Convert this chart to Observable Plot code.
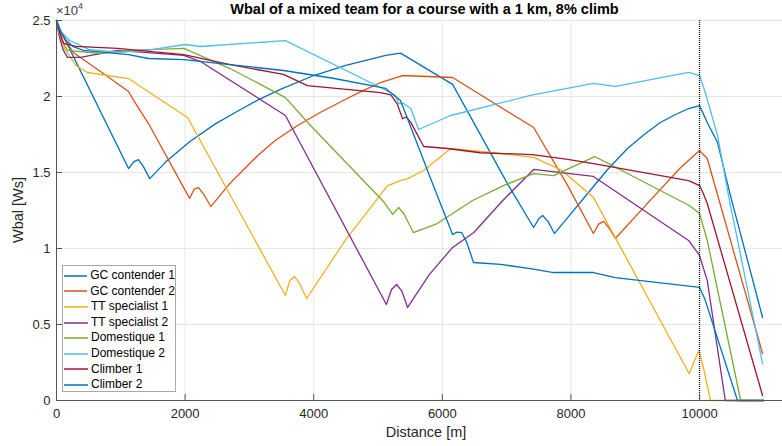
<!DOCTYPE html>
<html>
<head>
<meta charset="utf-8">
<script src="https://cdn.jsdelivr.net/npm/d3@7"></script>
<script src="https://cdn.jsdelivr.net/npm/@observablehq/plot@0.6"></script>
<style>
  html, body { margin: 0; padding: 0; background: #fff; }
  #wrap { position: relative; width: 782px; height: 446px; overflow: hidden; font-family: "Liberation Sans", Arial, sans-serif; color: #262626; }
  #title { position: absolute; left: 0; width: 849px; top: 1px; text-align: center; font-weight: bold; font-size: 14.5px; color: #000; white-space: nowrap; }
  #exp { position: absolute; left: 56px; top: 2px; font-size: 13px; color: #404040; }
  #exp sup { font-size: 9px; position: relative; top: -1px; }
  #xlab { position: absolute; left: 326px; width: 200px; top: 424px; text-align: center; font-size: 14.5px; }
  #ylab { position: absolute; left: 18px; top: 210px; transform: translate(-50%, -50%) rotate(-90deg); font-size: 14.5px; white-space: nowrap; }
  #legend { position: absolute; left: 62px; top: 265px; width: 114px; height: 127px; border: 1px solid #a8a8a8; background: #fff; font-size: 12px; box-sizing: border-box; padding-top: 2px; }
  .row { height: 15.6px; line-height: 15.6px; display: flex; align-items: center; white-space: nowrap; color: #000; }
  .row svg { margin-left: 1px; margin-right: 3px; }
</style>
</head>
<body>
<div id="wrap">
  <div id="chart"></div>
  <div id="title">Wbal of a mixed team for a course with a 1 km, 8% climb</div>
  <div id="exp">×10<sup>4</sup></div>
  <div id="xlab">Distance [m]</div>
  <div id="ylab">Wbal [Ws]</div>
  <div id="legend"></div>
</div>
<script>
const names = ["GC contender 1", "GC contender 2", "TT specialist 1", "TT specialist 2", "Domestique 1", "Domestique 2", "Climber 1", "Climber 2"];
const colors = ["#0072BD", "#D95319", "#EDB120", "#7E2F8E", "#77AC30", "#4DBEEE", "#A2142F", "#0072BD"];
const xTicks = [0, 2000, 4000, 6000, 8000, 10000];
const yTicks = [0, 5000, 10000, 15000, 20000, 25000];
const yTickLabels = ["0", "0.5", "1", "1.5", "2", "2.5"];
const climbEnd = 10000;

// [distance m, Wbal Ws]
const gc1 = [[0,25000],[80,24200],[1120,15260],[1200,15700],[1275,15850],[1350,15400],[1450,14600],[1700,15700],[2080,17050],[2470,18200],[2800,19000],[3120,19740],[3500,20500],[4000,21380],[4500,22050],[5120,22700],[5350,22850],[6160,20800],[7030,14140],[7420,11380],[7500,11950],[7560,12170],[7640,11800],[7745,10990],[8000,12300],[8260,13620],[8570,15200],[8880,16580],[9140,17500],[9390,18290],[9620,18800],[9830,19210],[10000,19400],[10120,18290],[10280,16970],[10480,13490],[10980,5460]];
const gc2 = [[0,25000],[60,24200],[260,22900],[700,21600],[1120,20330],[1200,19740],[1430,18220],[2070,13300],[2140,13900],[2210,14000],[2300,13500],[2400,12760],[2700,14300],[3130,16120],[3400,17100],[3750,18090],[4100,18950],[4460,19740],[4750,20350],[5040,20920],[5380,21380],[6160,21250],[7420,17960],[7950,14140],[8350,10990],[8430,11600],[8510,11780],[8600,11300],[8690,10660],[9240,13200],[9700,15300],[10000,16450],[10120,15920],[10980,3090]];
const tt1 = [[0,25000],[50,24000],[120,23200],[300,22040],[480,21580],[1120,21180],[2040,18600],[3560,6910],[3630,7900],[3700,8160],[3780,7700],[3890,6710],[4500,10600],[5150,14140],[5350,14470],[5460,14600],[5710,15130],[6130,16580],[6905,16250],[7420,15990],[7840,15190],[8350,13360],[9840,1760],[9930,2700],[9990,3290],[10060,2170],[10170,0],[11000,0]];
const tt2 = [[0,25000],[40,24000],[100,23100],[170,22570],[370,22570],[950,23030],[1980,22700],[2240,22300],[3560,18750],[5130,6320],[5210,7300],[5290,7630],[5370,7200],[5460,6120],[5800,8300],[6160,10070],[6490,11050],[6940,13160],[7420,15200],[8350,14740],[9830,10530],[10000,9540],[10120,7890],[10400,0],[11000,0]];
const dom1 = [[0,25000],[50,24000],[170,23030],[680,22830],[1120,23030],[1980,23160],[2700,21840],[3560,19930],[3950,18090],[5070,13160],[5230,12240],[5320,12700],[5400,12300],[5550,11050],[5920,11640],[6470,13160],[6950,14140],[7420,14930],[7730,14800],[8370,16050],[9840,12830],[10000,12300],[10120,10530],[10640,0],[11000,0]];
const dom2 = [[0,25000],[60,24300],[200,23700],[500,23100],[1000,22900],[1500,23100],[2000,23420],[2240,23290],[3560,23680],[5040,20590],[5270,20070],[5320,19540],[5400,19540],[5510,19210],[5630,17830],[6130,18750],[7370,20070],[8350,20860],[8690,20660],[9830,21580],[10000,21380],[10090,20260],[10280,17430],[10450,13490],[10980,2430]];
const cl1 = [[0,25000],[50,24200],[110,23500],[300,23300],[950,23160],[1980,22760],[2700,22100],[3530,21450],[3900,20720],[5040,20260],[5200,20100],[5300,19500],[5380,18550],[5440,18650],[5510,18300],[5710,16710],[6080,16580],[6590,16300],[7400,16180],[7950,15860],[8350,15590],[9830,14470],[10000,14140],[10060,13600],[10120,12960],[10980,330]];
const cl2 = [[0,25000],[60,24300],[150,23700],[250,23300],[420,23030],[1120,22760],[1430,22500],[1980,22430],[2700,22100],[3530,21710],[4300,21200],[5120,20530],[5240,20100],[5350,19740],[5860,14140],[6160,10920],[6230,11080],[6300,11050],[6380,10400],[6485,9080],[6905,8950],[7370,8680],[7730,8420],[8350,8420],[8690,8090],[10000,7440],[10080,6700],[10590,0],[11000,0]];

const seriesPts = [gc1, gc2, tt1, tt2, dom1, dom2, cl1, cl2];
const table = seriesPts.flatMap((pts, i) => pts.map(([d, w]) => ({name: names[i], d, w})));

const font = '"Liberation Sans", Arial, sans-serif';
const chart = Plot.plot({
  width: 782,
  height: 446,
  marginLeft: 56,
  marginRight: 0,
  marginTop: 20,
  marginBottom: 46,
  style: {fontFamily: font, fontSize: "13px", color: "#262626", background: "#fff"},
  x: {domain: [0, 11290]},
  y: {domain: [0, 25000]},
  color: {domain: names, range: colors},
  marks: [
    Plot.gridX(xTicks, {stroke: "#e6e6e6", strokeOpacity: 1}),
    Plot.gridY(yTicks, {stroke: "#e6e6e6", strokeOpacity: 1}),
    Plot.line(table, {x: "d", y: "w", z: "name", stroke: "name", strokeWidth: 1.3}),
    Plot.ruleX([climbEnd], {stroke: "#1a1a1a", strokeWidth: 1.3, strokeDasharray: "1,1"}),
    Plot.ruleX([0], {stroke: "#555"}),
    Plot.ruleY([0], {stroke: "#555"}),
    Plot.axisX({ticks: xTicks, tickSize: 6, dy: -6, text: null, stroke: "#555", label: null}),
    Plot.axisX({ticks: xTicks, tickSize: 0, tickPadding: 8, tickFormat: d => String(d), label: null, fill: "#262626"}),
    Plot.axisY({ticks: yTicks, tickSize: 6, dx: 6, text: null, stroke: "#555", label: null}),
    Plot.axisY({ticks: yTicks, tickSize: 0, tickPadding: 6, tickFormat: d => yTickLabels[yTicks.indexOf(d)], label: null, fill: "#262626"})
  ]
});
document.getElementById("chart").appendChild(chart);

const legend = document.getElementById("legend");
names.forEach((n, i) => {
  const row = document.createElement("div");
  row.className = "row";
  row.innerHTML = `<svg width="24" height="4"><line x1="0" y1="2" x2="24" y2="2" stroke="${colors[i]}" stroke-width="1.5"/></svg><span>${n}</span>`;
  legend.appendChild(row);
});
</script>
</body>
</html>
